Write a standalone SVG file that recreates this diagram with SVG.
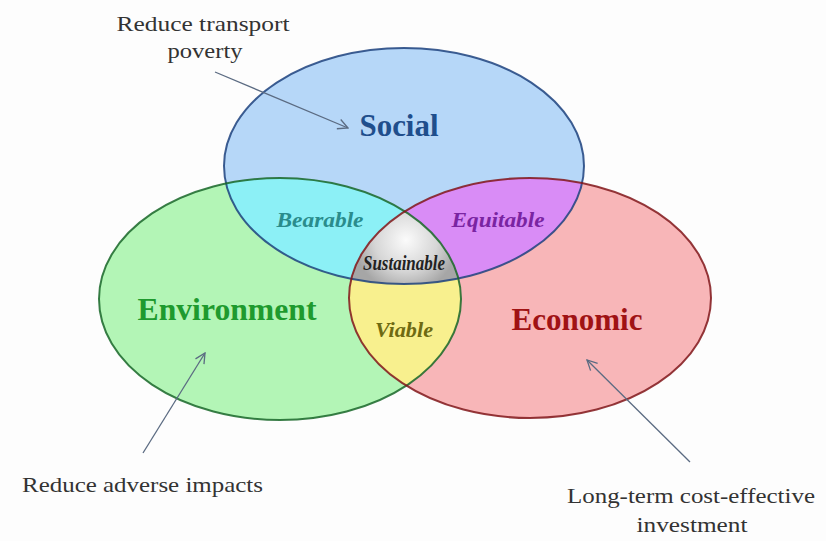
<svg xmlns="http://www.w3.org/2000/svg" width="826" height="541" viewBox="0 0 826 541">
<defs>
<style>
.lbl{font-family:"Liberation Serif","DejaVu Serif",serif;font-size:22px;fill:#333;}
.main{font-family:"Liberation Serif","DejaVu Serif",serif;font-weight:bold;font-size:31px;}
.sub{font-family:"Liberation Serif","DejaVu Serif",serif;font-style:italic;font-weight:bold;font-size:21px;}
.arr{fill:none;stroke:#5b6b82;stroke-width:1.3;marker-end:url(#ah);}
</style>
<marker id="ah" viewBox="0 0 12 12" refX="11" refY="6" markerWidth="12" markerHeight="12" markerUnits="userSpaceOnUse" orient="auto">
<path d="M1,1 L11,6 L1,11" fill="none" stroke="#5b6b82" stroke-width="1.3"/>
</marker>
<clipPath id="cS"><ellipse cx="404" cy="166" rx="180" ry="118"/></clipPath>
<clipPath id="cEnv"><ellipse cx="280" cy="299" rx="181" ry="121"/></clipPath>
<clipPath id="cEco"><ellipse cx="530" cy="298" rx="181" ry="120"/></clipPath>
<radialGradient id="gSus" cx="406" cy="240" r="52" gradientUnits="userSpaceOnUse">
<stop offset="0" stop-color="#fbfbfb"/>
<stop offset="0.6" stop-color="#d6d6d6"/>
<stop offset="1" stop-color="#a6a6a6"/>
</radialGradient>
</defs>
<rect width="826" height="541" fill="#fdfdfd"/>

<g id="social">
<ellipse cx="404" cy="166" rx="180" ry="118" fill="#b6d7f8"/>
</g>
<g id="environment">
<ellipse cx="280" cy="299" rx="181" ry="121" fill="#b3f5b6"/>
</g>
<g id="economic">
<ellipse cx="530" cy="298" rx="181" ry="120" fill="#f8b6b8"/>
</g>
<g id="bearable">
<ellipse cx="280" cy="299" rx="181" ry="121" fill="#8cf0f6" clip-path="url(#cS)"/>
</g>
<g id="equitable">
<ellipse cx="530" cy="298" rx="181" ry="120" fill="#d98cf6" clip-path="url(#cS)"/>
</g>
<g id="viable">
<ellipse cx="530" cy="298" rx="181" ry="120" fill="#f8f08e" clip-path="url(#cEnv)"/>
</g>
<g id="sustainable">
<g clip-path="url(#cS)">
<ellipse cx="530" cy="298" rx="181" ry="120" fill="url(#gSus)" clip-path="url(#cEnv)"/>
</g>
</g>

<g id="outlines" fill="none" stroke-width="2" stroke-opacity="0.85">
<ellipse cx="404" cy="166" rx="180" ry="118" stroke="#1d427e"/>
<ellipse cx="280" cy="299" rx="181" ry="121" stroke="#186628"/>
<ellipse cx="530" cy="298" rx="181" ry="120" stroke="#80161a"/>
</g>

<g id="labels-main">
<text class="main" x="399" y="136" text-anchor="middle" fill="#1f4e8c" textLength="79" lengthAdjust="spacingAndGlyphs">Social</text>
<text class="main" x="227" y="320" text-anchor="middle" fill="#1e9a2e" textLength="179" lengthAdjust="spacingAndGlyphs">Environment</text>
<text class="main" x="577" y="330" text-anchor="middle" fill="#a01214" textLength="131" lengthAdjust="spacingAndGlyphs">Economic</text>
<text class="sub" x="320" y="227" text-anchor="middle" fill="#2a8c8c" textLength="87" lengthAdjust="spacingAndGlyphs">Bearable</text>
<text class="sub" x="498" y="227" text-anchor="middle" fill="#7a24a2" textLength="93" lengthAdjust="spacingAndGlyphs">Equitable</text>
<text class="sub" x="404" y="270" text-anchor="middle" fill="#222" font-size="18" font-weight="normal" textLength="82" lengthAdjust="spacingAndGlyphs">Sustainable</text>
<text class="sub" x="404" y="337" text-anchor="middle" fill="#6e6a12" textLength="58" lengthAdjust="spacingAndGlyphs">Viable</text>
</g>

<g id="note-social">
<text class="lbl" x="203" y="31" text-anchor="middle" textLength="173" lengthAdjust="spacingAndGlyphs">Reduce transport</text>
<text class="lbl" x="205" y="58" text-anchor="middle" textLength="75" lengthAdjust="spacingAndGlyphs">poverty</text>
</g>
<g id="note-environment">
<text class="lbl" x="22" y="492" textLength="241" lengthAdjust="spacingAndGlyphs">Reduce adverse impacts</text>
</g>
<g id="note-economic">
<text class="lbl" x="691" y="503" text-anchor="middle" textLength="248" lengthAdjust="spacingAndGlyphs">Long-term cost-effective</text>
<text class="lbl" x="692" y="532" text-anchor="middle" textLength="111" lengthAdjust="spacingAndGlyphs">investment</text>
</g>

<g id="connectors">
<line class="arr" x1="215" y1="72" x2="348" y2="128"/>
<line class="arr" x1="143" y1="453" x2="205" y2="353"/>
<line class="arr" x1="690" y1="462" x2="587" y2="360"/>
</g>
</svg>
